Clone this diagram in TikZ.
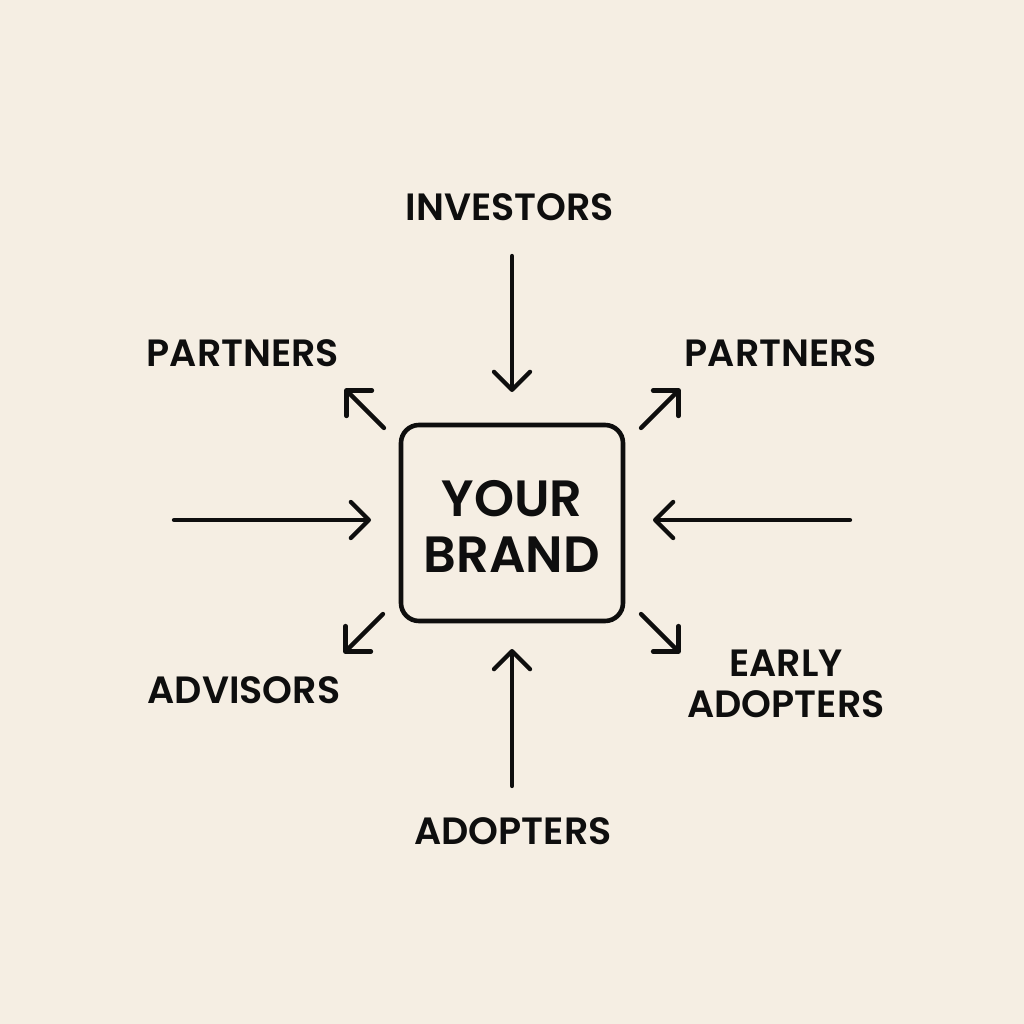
\documentclass[tikz,border=0pt]{standalone}
\usepackage{fontspec}
\setmainfont{Poppins}[BoldFont={Poppins SemiBold}]
\usetikzlibrary{arrows.meta}
\definecolor{bg}{HTML}{F5EEE3}
\definecolor{ink}{HTML}{0E0E0E}
\begin{document}
\begin{tikzpicture}[x=1pt,y=-1pt,
  lbl/.style={text=ink,font=\fontsize{38}{41}\selectfont\bfseries,align=center,inner sep=0pt},
  arr/.style={draw=ink,line width=4.3pt,line cap=round,line join=round,-{Straight Barb[length=18pt,width=36pt,round]}}]
\fill[bg] (0,0) rectangle (1024,1024);
\useasboundingbox (0,0) rectangle (1024,1024);
\node[draw=ink,line width=4.6pt,rounded corners=18pt,minimum width=222pt,minimum height=196pt,inner sep=0pt] (brand) at (512,523) {};
\node[text=ink,font=\fontsize{51}{56}\selectfont\bfseries,align=center] (brandtxt) at (512,526) {YOUR\\BRAND};
\node[lbl] (inv) at (510,207) {INVESTORS};
\node[lbl] (pl) at (243,353) {PARTNERS};
\node[lbl] (pr) at (781,353) {PARTNERS};
\node[lbl] (adv) at (244,690) {ADVISORS};
\node[lbl] (ea) at (786,684) {EARLY\\ADOPTERS};
\node[lbl] (ado) at (513,831) {ADOPTERS};
\coordinate (a1s) at (512,256); \coordinate (a1e) at (512,392);
\coordinate (a2s) at (384,428); \coordinate (a2e) at (345,389);
\coordinate (a3s) at (641,428); \coordinate (a3e) at (680,389);
\coordinate (a4s) at (174,520); \coordinate (a4e) at (371,520);
\coordinate (a5s) at (850,520); \coordinate (a5e) at (653,520);
\coordinate (a6s) at (383,614); \coordinate (a6e) at (344,653);
\coordinate (a7s) at (641,614); \coordinate (a7e) at (680,653);
\coordinate (a8s) at (512,786); \coordinate (a8e) at (512,649);
\foreach \i in {1,...,8} {\draw[arr] (a\i s) -- (a\i e);}
\end{tikzpicture}
\end{document}
